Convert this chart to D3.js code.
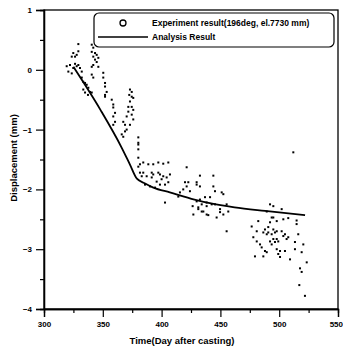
<!DOCTYPE html>
<html><head><meta charset="utf-8">
<script src="https://cdn.jsdelivr.net/npm/d3@7"></script>
<style>html,body{margin:0;padding:0;background:#fff;}svg{display:block;font-family:"Liberation Sans",Arial,sans-serif;}</style>
</head><body>
<svg id="c" width="343" height="348"></svg>
<script>
// Analysis result curve
const anaDays = [325, 348, 366, 373, 379, 386, 393, 407, 428, 441, 462, 488, 522];
const anaDisp = [0.05, -0.67, -1.30, -1.58, -1.82, -1.90, -1.97, -2.05, -2.17, -2.23, -2.30, -2.36, -2.43];

// Experiment result points (day, displacement)
const expDays = [
329.2,324.9,326.4,327.8,323.6,329.2,319.3,322.1,326.4,327.8,324.9,329.2,320.7,323.6,330.6,332.1,
332.1,333.4,334.9,336.3,337.7,333.4,334.9,339.1,337.4,340.6,
340.6,341.9,340.6,343.4,341.9,344.8,346.2,343.4,344.8,340.6,341.9,346.2,340.6,341.9,
350.4,350.4,351.9,351.9,353.3,351.9,351.9,357.6,358.9,358.9,360.4,358.9,360.4,358.9,
373.1,374.6,372.5,374.6,375.9,373.1,371.7,374.6,375.9,371.7,370.3,374.6,375.9,367.4,368.9,373.1,370.3,368.9,366.1,367.4,
380.2,380.2,380.2,380.2,380.2,381.6,384.4,380.2,388.7,392.9,397.2,401.4,405.7,
381.6,384.4,383.1,387.3,391.6,392.9,391.6,397.2,398.6,401.4,400.0,404.3,407.1,405.7,402.9,395.8,398.6,385.9,390.1,394.4,
421.3,432.6,419.9,422.7,421.3,429.8,432.6,418.4,415.6,424.1,414.2,402.9,426.4,431.2,434.1,427.0,438.3,438.3,436.9,432.6,
444.0,429.8,444.0,445.4,451.1,452.5,441.2,429.8,434.1,438.3,442.6,445.4,431.2,435.5,439.7,449.7,449.7,452.5,446.8,455.3,456.7,455.3,
492.2,495.0,495.0,482.2,492.2,476.6,480.9,487.9,486.5,490.7,478.0,480.9,483.7,485.1,489.4,495.0,496.4,479.4,486.5,
502.1,489.4,514.8,514.8,493.6,497.9,503.5,507.7,490.7,495.0,497.9,489.4,493.6,496.4,502.1,503.5,504.9,507.7,506.3,516.2,
492.2,497.9,493.6,499.2,513.4,520.5,487.9,497.9,500.7,504.9,513.4,519.1,499.2,500.7,509.2,523.4,517.7,519.1,517.1,521.9,512.0
];
const expDisp = [
0.43,0.28,0.22,0.25,0.22,0.31,0.06,0.08,0.10,0.06,0.03,0.08,-0.03,-0.06,0.03,-0.03,
-0.13,-0.20,-0.22,-0.25,-0.30,-0.33,-0.38,-0.37,-0.42,-0.38,
0.42,0.37,0.30,0.28,0.22,0.25,0.20,0.17,0.13,0.05,0.08,0.05,-0.08,-0.13,
-0.05,-0.13,-0.22,-0.28,-0.37,-0.42,-0.45,-0.50,-0.58,-0.63,-0.72,-0.78,-0.87,-0.92,
-0.33,-0.37,-0.42,-0.45,-0.47,-0.53,-0.62,-0.62,-0.67,-0.70,-0.78,-0.75,-0.83,-0.87,-0.92,-0.92,-1.00,-1.03,-1.08,-1.12,
-1.13,-1.25,-1.22,-1.33,-1.47,-1.58,-1.55,-1.62,-1.58,-1.58,-1.55,-1.57,-1.55,
-1.72,-1.72,-1.78,-1.78,-1.72,-1.75,-1.80,-1.72,-1.75,-1.78,-1.83,-1.80,-1.75,-1.88,-1.92,-1.87,-1.92,-1.92,-1.95,-1.97,
-1.63,-1.77,-1.88,-1.88,-1.95,-1.88,-1.95,-2.00,-2.05,-2.03,-2.12,-2.22,-2.28,-2.30,-2.37,-2.42,-2.28,-2.42,-2.13,-2.17,
-1.77,-1.92,-1.95,-2.03,-2.05,-2.08,-2.13,-2.20,-2.25,-2.22,-2.25,-2.25,-2.33,-2.37,-2.43,-2.33,-2.38,-2.42,-2.47,-2.25,-2.37,-2.70,
-2.25,-2.28,-2.47,-2.53,-2.55,-2.62,-2.70,-2.67,-2.72,-2.72,-2.80,-2.87,-2.92,-2.97,-3.05,-2.83,-2.88,-3.12,-3.12,
-2.33,-2.37,-2.52,-2.58,-2.47,-2.53,-2.50,-2.48,-2.63,-2.67,-2.70,-2.75,-2.75,-2.72,-2.70,-2.78,-2.75,-2.80,-2.83,-2.75,
-2.87,-2.83,-2.92,-2.87,-2.88,-2.92,-3.03,-3.00,-3.03,-3.03,-3.00,-3.05,-3.08,-3.13,-3.17,-3.22,-3.32,-3.38,-3.60,-3.78,-1.38
];

const xTicks = [300, 350, 400, 450, 500, 550];
const xMinor = [325, 375, 425, 475, 525];
const yTicks = [1, 0, -1, -2, -3, -4];
const yMinor = [0.5, -0.5, -1.5, -2.5, -3.5];
const legendLabels = ["Experiment result(196deg, el.7730 mm)", "Analysis Result"];
const xTitle = "Time(Day after casting)";
const yTitle = "Displacement (mm)";

const svg = d3.select("#c");
const L = 44, R = 338, T = 10, B = 309;
const x = d3.scaleLinear().domain([300, 550]).range([L, R]);
const y = d3.scaleLinear().domain([-4, 1]).range([B, T]);

// frame
svg.append("rect").attr("x", L).attr("y", T).attr("width", R - L).attr("height", B - T)
  .attr("fill", "none").attr("stroke", "#000").attr("stroke-width", 1.3);

// axes
const xAxis = d3.axisBottom(x).tickValues(xTicks).tickSize(8).tickPadding(4).tickFormat(d3.format("d"));
const gx = svg.append("g").attr("transform", `translate(0,${B})`).call(xAxis);
const gxm = svg.append("g").attr("transform", `translate(0,${B})`)
  .call(d3.axisBottom(x).tickValues(xMinor).tickSize(4).tickFormat(""));
const yAxis = d3.axisLeft(y).tickValues(yTicks).tickSize(8).tickPadding(4).tickFormat(d3.format("d"));
const gy = svg.append("g").attr("transform", `translate(${L},0)`).call(yAxis);
const gym = svg.append("g").attr("transform", `translate(${L},0)`)
  .call(d3.axisLeft(y).tickValues(yMinor).tickSize(4).tickFormat(""));
[gx, gxm, gy, gym].forEach(g => {
  g.select(".domain").attr("stroke-width", 1.3);
  g.selectAll(".tick line").attr("stroke-width", 1.2);
  g.selectAll("text").attr("font-size", 8).attr("font-weight", "bold")
    .attr("font-family", "'Liberation Sans', Arial, sans-serif");
});
// keep the last x label inside the canvas
gx.selectAll(".tick").filter(d => d === 550).select("text")
  .attr("text-anchor", "end").attr("dx", 4.5);

// titles
svg.append("text").attr("x", 182).attr("y", 344).attr("text-anchor", "middle")
  .attr("font-size", 9.5).attr("font-weight", "bold").text(xTitle);
svg.append("text").attr("transform", "translate(17,158) rotate(-90)").attr("text-anchor", "middle")
  .attr("font-size", 9.5).attr("font-weight", "bold").text(yTitle);

// experiment points
const pts = expDays.map((d, i) => [d, expDisp[i]]);
svg.append("g").selectAll("rect").data(pts).join("rect")
  .attr("x", d => x(d[0]) - 1).attr("y", d => y(d[1]) - 1)
  .attr("width", 2).attr("height", 2).attr("fill", "#000");

// analysis line
const line = d3.line().x(d => x(d[0])).y(d => y(d[1])).curve(d3.curveMonotoneX);
svg.append("path").datum(anaDays.map((d, i) => [d, anaDisp[i]]))
  .attr("d", line).attr("fill", "none").attr("stroke", "#000").attr("stroke-width", 1.8);

// legend
const lg = svg.append("g");
lg.append("rect").attr("x", 94).attr("y", 13).attr("width", 240).attr("height", 34).attr("rx", 5)
  .attr("fill", "#fff").attr("stroke", "#000").attr("stroke-width", 1.2);
lg.append("circle").attr("cx", 123).attr("cy", 23).attr("r", 3).attr("fill", "none")
  .attr("stroke", "#000").attr("stroke-width", 1.3);
lg.append("line").attr("x1", 98).attr("x2", 148).attr("y1", 37).attr("y2", 37)
  .attr("stroke", "#000").attr("stroke-width", 1.3);
lg.selectAll("text.lab").data(legendLabels).join("text").attr("class", "lab")
  .attr("x", 152).attr("y", (d, i) => 26 + i * 14)
  .attr("font-size", 8.5).attr("font-weight", "bold").text(d => d);
</script>
</body></html>
